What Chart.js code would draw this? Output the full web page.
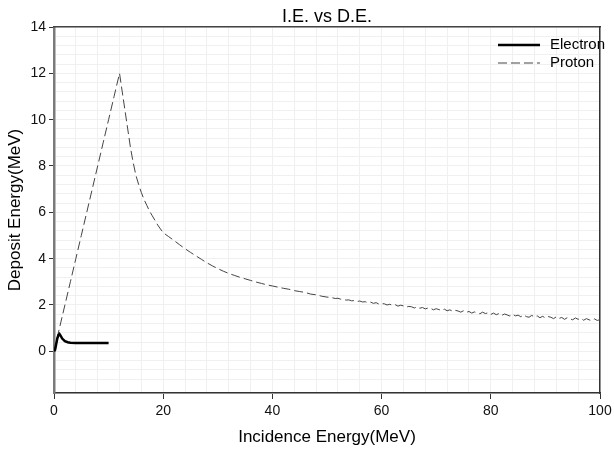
<!DOCTYPE html>
<html lang="en">
<head>
    <meta charset="UTF-8">
    <title>I.E. vs D.E.</title>
    <script src="https://cdn.jsdelivr.net/npm/chart.js"></script>
    <style>
        body { margin: 0; background: #fff; }
        #wrap { width: 614px; height: 450px; }
    </style>
</head>
<body>
    <div id="wrap"><canvas id="ieChart" width="614" height="450"></canvas></div>

    <script>
        // Electron: incidence energy -> deposit energy
        const electronE = [0, 0.2, 0.4, 0.6, 0.8, 1.0, 1.2, 1.5, 2, 2.5, 3, 4, 5, 6, 7, 8, 9, 10];
        const electronDep = [0, 0.07, 0.3, 0.55, 0.7, 0.75, 0.68, 0.55, 0.44, 0.39, 0.37, 0.36, 0.36, 0.36, 0.36, 0.36, 0.36, 0.36];

        // Proton: incidence energy -> deposit energy
        const protonE = [
            0, 1, 2, 3, 4, 5, 6, 7, 8, 9, 10, 11, 12,
            12.5, 13, 13.5, 14, 14.5, 15, 15.5, 16, 16.5, 17, 17.5, 18, 18.5, 19, 19.5, 20,
            21, 22, 23, 24, 25, 26, 27, 28, 29, 30, 31, 32, 33, 34, 35, 36, 37, 38, 39, 40,
            41, 42, 43, 44, 45, 46, 47, 48, 49,
            50, 50.5, 51, 51.5, 52, 52.5, 53, 53.5, 54, 54.5, 55, 55.5, 56, 56.5, 57, 57.5, 58, 58.5, 59, 59.5,
            60, 60.5, 61, 61.5, 62, 62.5, 63, 63.5, 64, 64.5, 65, 65.5, 66, 66.5, 67, 67.5, 68, 68.5, 69, 69.5,
            70, 70.5, 71, 71.5, 72, 72.5, 73, 73.5, 74, 74.5, 75, 75.5, 76, 76.5, 77, 77.5, 78, 78.5, 79, 79.5,
            80, 80.5, 81, 81.5, 82, 82.5, 83, 83.5, 84, 84.5, 85, 85.5, 86, 86.5, 87, 87.5, 88, 88.5, 89, 89.5,
            90, 90.5, 91, 91.5, 92, 92.5, 93, 93.5, 94, 94.5, 95, 95.5, 96, 96.5, 97, 97.5, 98, 98.5, 99, 99.5,
            100
        ];
        const protonDep = [
            0, 1, 2, 3, 4, 5, 6, 7, 8, 9, 10, 11, 12,
            11.2, 10.4, 9.6, 8.8, 8.15, 7.6, 7.2, 6.85, 6.55, 6.3, 6.05, 5.85, 5.65, 5.45, 5.28, 5.12,
            4.95, 4.78, 4.6, 4.43, 4.27, 4.12, 3.97, 3.82, 3.69, 3.57, 3.46, 3.36, 3.28, 3.2, 3.13, 3.06, 2.99, 2.93, 2.87, 2.82,
            2.77, 2.72, 2.68, 2.62, 2.58, 2.54, 2.47, 2.44, 2.38,
            2.34, 2.33, 2.31, 2.28, 2.29, 2.25, 2.24, 2.21, 2.22, 2.18, 2.19, 2.15, 2.17, 2.13, 2.14, 2.10, 2.12, 2.07, 2.10, 2.04,
            2.06, 2.05, 2.00, 2.03, 1.98, 2.01, 1.95, 1.99, 1.96, 1.91, 1.94, 1.92, 1.87, 1.92, 1.86, 1.89, 1.83, 1.87, 1.85, 1.79,
            1.84, 1.80, 1.76, 1.82, 1.75, 1.79, 1.73, 1.77, 1.74, 1.69, 1.75, 1.68, 1.72, 1.65, 1.70, 1.66, 1.62, 1.69, 1.63, 1.66,
            1.59, 1.65, 1.58, 1.63, 1.55, 1.61, 1.57, 1.52, 1.60, 1.53, 1.56, 1.49, 1.57, 1.50, 1.47, 1.55, 1.48, 1.53, 1.45, 1.51,
            1.44, 1.50, 1.47, 1.41, 1.49, 1.42, 1.46, 1.38, 1.45, 1.40, 1.36, 1.44, 1.38, 1.43, 1.34, 1.41, 1.36, 1.32, 1.40, 1.33,
            1.37
        ];

        const seriesNames = ['Electron', 'Proton'];
        const xTickLabels = [0, 20, 40, 60, 80, 100];
        const yTickLabels = [0, 2, 4, 6, 8, 10, 12, 14];

        const font = "'Liberation Sans', Arial, sans-serif";

        const isMajor = (v, list) => list.some(t => Math.abs(t - v) < 1e-6);

        // legend drawn inside the plot, top right
        const insideLegend = {
            id: 'insideLegend',
            afterDraw(chart) {
                const { ctx, chartArea } = chart;
                ctx.save();
                ctx.font = '15px ' + font;
                ctx.fillStyle = '#000';
                ctx.textBaseline = 'middle';
                chart.data.datasets.forEach((ds, i) => {
                    const y = chartArea.top + 18 + i * 18;
                    ctx.beginPath();
                    ctx.strokeStyle = ds.borderColor;
                    ctx.lineWidth = ds.borderWidth;
                    ctx.setLineDash(ds.borderDash || []);
                    ctx.moveTo(chartArea.right - 102, y);
                    ctx.lineTo(chartArea.right - 60, y);
                    ctx.stroke();
                    ctx.setLineDash([]);
                    ctx.fillText(ds.label, chartArea.right - 50, y);
                });
                ctx.restore();
            }
        };

        const ctx = document.getElementById('ieChart').getContext('2d');
        new Chart(ctx, {
            type: 'scatter',
            data: {
                datasets: [
                    {
                        label: seriesNames[0],
                        data: electronE.map((x, i) => ({ x: x, y: electronDep[i] })),
                        showLine: true,
                        borderColor: '#000000',
                        borderWidth: 2.5,
                        pointRadius: 0,
                        tension: 0
                    },
                    {
                        label: seriesNames[1],
                        data: protonE.map((x, i) => ({ x: x, y: protonDep[i] })),
                        showLine: true,
                        borderColor: '#444444',
                        borderWidth: 1,
                        borderDash: [9, 4],
                        pointRadius: 0,
                        tension: 0
                    }
                ]
            },
            options: {
                responsive: false,
                animation: false,
                layout: { padding: { left: 0, right: 14, top: 0, bottom: 0 } },
                plugins: {
                    legend: { display: false },
                    tooltip: { enabled: false },
                    title: {
                        display: true,
                        fullSize: false,
                        text: 'I.E. vs D.E.',
                        color: '#000',
                        font: { family: font, size: 18, weight: 'normal', lineHeight: 1 },
                        padding: { top: 8, bottom: 1 }
                    }
                },
                scales: {
                    x: {
                        type: 'linear',
                        min: 0,
                        max: 100,
                        afterFit(scale) { scale.height = 57; scale.paddingLeft = 0; scale.paddingRight = 0; },
                        ticks: {
                            stepSize: 4,
                            autoSkip: false,
                            maxRotation: 0,
                            padding: 4,
                            color: '#111',
                            font: { family: font, size: 14 },
                            callback: v => isMajor(v, xTickLabels) ? String(Math.round(v)) : ''
                        },
                        grid: {
                            color: '#f0f0f0',
                            lineWidth: 1,
                            tickLength: 6,
                            tickColor: c => (c.tick && isMajor(c.tick.value, xTickLabels)) ? '#333' : 'rgba(0,0,0,0)'
                        },
                        border: { display: true, color: '#333', width: 1.5 },
                        title: {
                            display: true,
                            text: 'Incidence Energy(MeV)',
                            color: '#000',
                            font: { family: font, size: 17 },
                            padding: { top: 2, bottom: 2 }
                        }
                    },
                    y: {
                        type: 'linear',
                        min: -1.8,
                        max: 14,
                        afterFit(scale) { scale.width = 54; scale.paddingTop = 0; scale.paddingBottom = 0; },
                        ticks: {
                            stepSize: 0.4,
                            autoSkip: false,
                            padding: 3,
                            color: '#111',
                            font: { family: font, size: 14 },
                            callback: v => isMajor(v, yTickLabels) ? String(Math.round(v)) : ''
                        },
                        grid: {
                            color: '#f0f0f0',
                            lineWidth: 1,
                            tickLength: 5,
                            tickColor: c => (c.tick && isMajor(c.tick.value, yTickLabels)) ? '#333' : 'rgba(0,0,0,0)'
                        },
                        border: { display: true, color: '#7a7a7a', width: 2.5 },
                        title: {
                            display: true,
                            text: 'Deposit Energy(MeV)',
                            color: '#000',
                            font: { family: font, size: 17 },
                            padding: { top: 5, bottom: 2 }
                        }
                    },
                    xTop: {
                        type: 'linear',
                        position: 'top',
                        afterFit(scale) { scale.height = 0; },
                        ticks: { display: false },
                        grid: { display: false, drawTicks: false },
                        border: { display: true, color: '#444', width: 1.5 }
                    },
                    yRight: {
                        type: 'linear',
                        position: 'right',
                        afterFit(scale) { scale.width = 0; },
                        ticks: { display: false },
                        grid: { display: false, drawTicks: false },
                        border: { display: true, color: '#333', width: 1.5 }
                    }
                }
            },
            plugins: [insideLegend]
        });
    </script>
</body>
</html>
